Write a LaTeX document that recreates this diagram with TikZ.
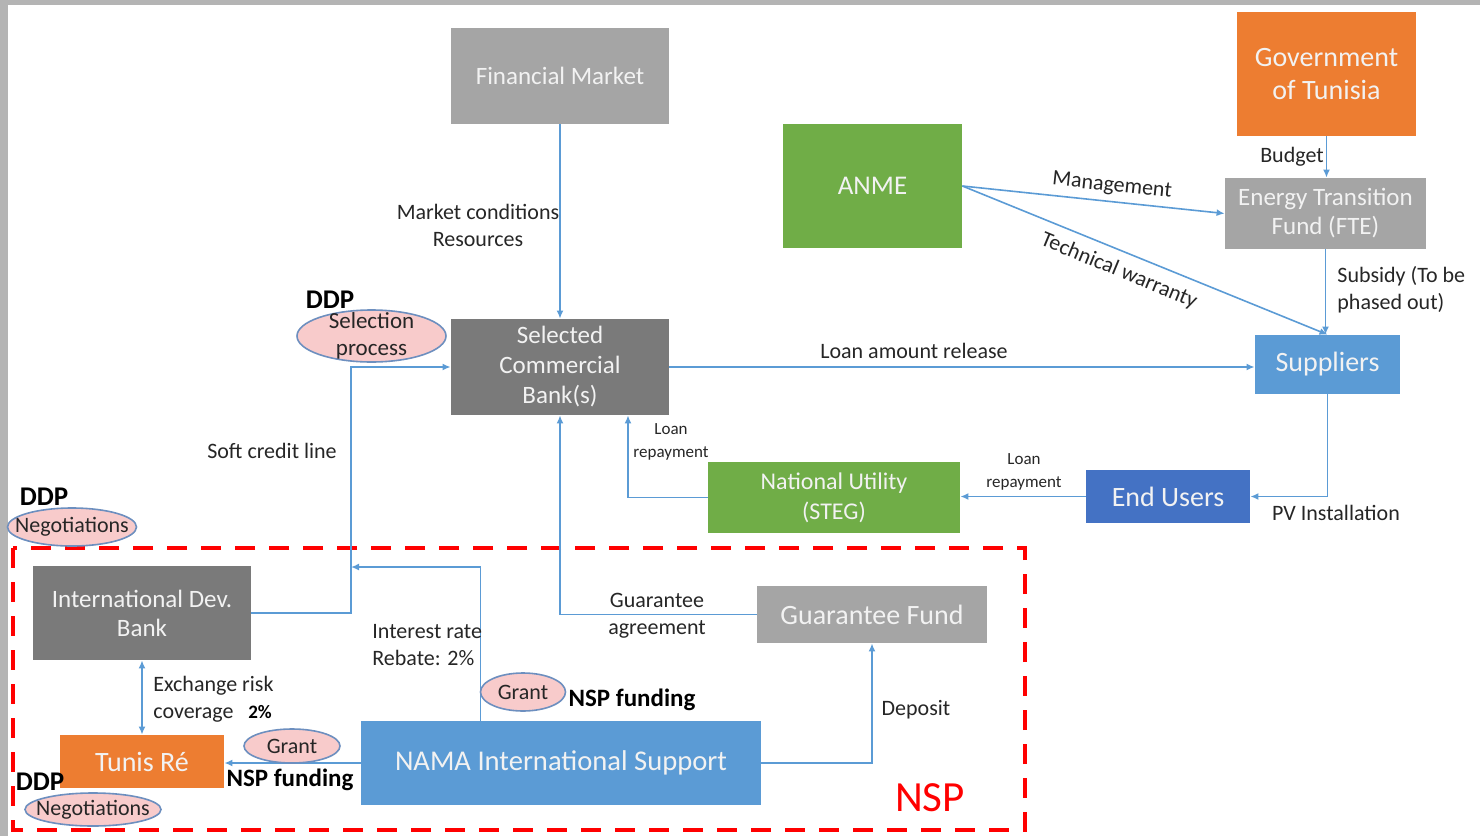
\documentclass[tikz,border=0pt]{standalone}
\usepackage{fontspec}
\setmainfont{Carlito}
\usetikzlibrary{arrows.meta,shapes.geometric,calc}
\definecolor{cblue}{HTML}{5B9BD5}
\definecolor{dblue}{HTML}{4472C4}
\definecolor{gmid}{HTML}{A5A5A5}
\definecolor{gdark}{HTML}{7A7A7A}
\definecolor{cgreen}{HTML}{70AD47}
\definecolor{corange}{HTML}{ED7D31}
\definecolor{pinkfill}{HTML}{F8CBCB}
\definecolor{ellborder}{HTML}{6D8FBF}
\definecolor{lbltext}{HTML}{262626}
\definecolor{frame}{HTML}{B4B4B4}
\begin{document}
\begin{tikzpicture}[x=0.5pt,y=-0.5pt,
  box/.style={rectangle, inner sep=0pt, align=center, text=white!95!black},
  conn/.style={draw=cblue, line width=0.8pt, -{Latex[length=4pt,width=3.5pt]}},
  lbl/.style={text=lbltext, align=center, inner sep=0pt, font=\fontsize{11}{13.5}\selectfont},
  small/.style={text=lbltext, align=center, inner sep=0pt, font=\fontsize{8.5}{11.5}\selectfont},
  pill/.style={ellipse, draw=ellborder, fill=pinkfill, line width=0.8pt, inner sep=0pt, align=center, text=lbltext},
  ddp/.style={font=\bfseries\fontsize{13.5}{15}\selectfont, inner sep=0pt},
  nspf/.style={font=\bfseries\fontsize{12.5}{14}\selectfont, inner sep=0pt}
]
\useasboundingbox (0,0) rectangle (1480,836);
% screenshot frame
\fill[frame] (0,0) rectangle (1480,5);
\fill[frame] (0,0) rectangle (8,836);

% boxes
\node[box, fill=gmid, minimum width=109pt, minimum height=48pt, font=\fontsize{12.5}{15}\selectfont] (fm) at (560,76) {Financial Market};
\node[box, fill=corange, minimum width=89.5pt, minimum height=62pt, font=\fontsize{14}{16.5}\selectfont] (gov) at (1326.5,74) {Government\\of Tunisia};
\node[box, fill=cgreen, minimum width=89.5pt, minimum height=62pt, font=\fontsize{13.5}{16}\selectfont] (anme) at (872.5,186) {ANME};
\node[box, fill=gmid, minimum width=100.5pt, minimum height=35.5pt, font=\fontsize{12.5}{14.5}\selectfont] (fte) at (1325.5,213.5) {Energy Transition\\Fund (FTE)};
\node[box, fill=gdark, minimum width=109pt, minimum height=48pt, font=\fontsize{12.5}{15}\selectfont] (scb) at (560,367) {Selected\\Commercial\\Bank(s)};
\node[box, fill=cblue, minimum width=72.5pt, minimum height=29.5pt, font=\fontsize{14}{16}\selectfont] (sup) at (1327.5,364.5) {Suppliers};
\node[box, fill=cgreen, minimum width=126pt, minimum height=35.5pt, font=\fontsize{12}{15}\selectfont] (steg) at (834,497.5) {National Utility\\(STEG)};
\node[box, fill=dblue, minimum width=82pt, minimum height=26.5pt, font=\fontsize{14}{16}\selectfont] (eu) at (1168,496.5) {End Users};
\node[box, fill=gdark, minimum width=109pt, minimum height=47pt, font=\fontsize{12.5}{14.5}\selectfont] (idb) at (142,613) {International Dev.\\Bank};
\node[box, fill=gmid, minimum width=115pt, minimum height=28.5pt, font=\fontsize{14}{16}\selectfont] (gf) at (872,614.5) {Guarantee Fund};
\node[box, fill=corange, minimum width=82pt, minimum height=26.5pt, font=\fontsize{14}{16}\selectfont] (tr) at (142,761.5) {Tunis Ré};
\node[box, fill=cblue, minimum width=200pt, minimum height=42pt, font=\fontsize{14.3}{16}\selectfont] (nama) at (561,763) {NAMA International Support};

% NSP dashed frame
\draw[red, line width=2pt, dash pattern=on 10pt off 7pt] (13,548) rectangle (1025,830);
\node[text=red, font=\fontsize{21.5}{24}\selectfont, inner sep=0pt] (nsp) at (930,798) {NSP};

% connectors
\draw[conn] (fm) -- (scb);
\coordinate (jsoft) at (351,567);
\draw[conn] (idb.east) -| (jsoft) |- (scb.west);
\draw[conn] ($(nama.north west)+(120,0)$) |- (jsoft);
\draw[conn] (gf.west) -| (scb.south);
\draw[conn] (nama.east) -| (gf.south);
\draw[conn] (nama.west) -- (nama.west -| tr.east);
\draw[conn, {Latex[length=4pt,width=3.5pt]}-{Latex[length=4pt,width=3.5pt]}] (idb.south) -- (tr.north);
\draw[conn] (scb.east) -- (scb.east -| sup.west);
\draw[conn] (steg.west) -| ($(scb.south)+(68,0)$);
\draw[conn] (eu.west) -- (eu.west -| steg.east);
\draw[conn] (sup.south) |- (eu.east);
\draw[conn] (gov.south) -- (gov.south |- fte.north);
\draw[conn] (fte.south) -- (fte.south |- sup.north);
\draw[conn] (anme.east) -- (fte.west);
\draw[conn] (anme.east) -- (sup.north);

% connector labels
\node[lbl] (l1) at (478,225) {Market conditions\\Resources};
\node[lbl] (l2) at (272,451) {Soft credit line};
\node[lbl, anchor=west, align=left] (l3) at (372,645) {Interest rate\\Rebate: 2\%};
\node[lbl] (l4) at (657,616) {Guarantee\\agreement};
\node[lbl] (l5) at (916,710) {Deposit};
\node[lbl, anchor=west, align=left] (l6) at (153,699) {Exchange risk\\coverage};
\node[font=\bfseries\fontsize{9.5}{11}\selectfont, inner sep=0pt] (l6b) at (260,712) {2\%};
\node[lbl] (l7) at (914,351) {Loan amount release};
\node[small] (l8) at (671,442) {Loan\\repayment};
\node[small] (l9) at (1024,472) {Loan\\repayment};
\node[lbl] (l10) at (1336,513) {PV Installation};
\node[lbl] (l11) at (1292,157) {Budget};
\node[lbl, anchor=west, align=left] (l12) at (1337,290) {Subsidy (To be\\phased out)};
\node[lbl, rotate=-5.9] (l13) at (1112,186) {Management};
\node[lbl, rotate=-22.5] (l14) at (1119,271) {Technical warranty};

% DDP ellipses
\node[pill, minimum width=74.5pt, minimum height=26pt, inner ysep=-3.5pt, font=\fontsize{11.5}{13.5}\selectfont] (sel) at (371.5,336) {Selection\\process};
\node[ddp] (d1) at (330,300) {DDP};
\node[pill, minimum width=64.5pt, minimum height=19pt, inner xsep=-6pt, font=\fontsize{11}{13}\selectfont] (neg1) at (72,527) {Negotiations};
\node[ddp] (d2) at (44,497) {DDP};
\node[pill, minimum width=68pt, minimum height=16.5pt, inner xsep=-5pt, inner ysep=-1pt, font=\fontsize{11}{13}\selectfont] (neg2) at (93,809.5) {Negotiations};
\node[ddp] (d3) at (40,782) {DDP};
\node[pill, minimum width=42.5pt, minimum height=19pt, font=\fontsize{11}{13}\selectfont] (g1) at (523,692) {Grant};
\node[nspf] (n1) at (632,700) {NSP funding};
\node[pill, minimum width=48pt, minimum height=17pt, font=\fontsize{11}{13}\selectfont] (g2) at (292,746) {Grant};
\node[nspf] (n2) at (290,780) {NSP funding};
\end{tikzpicture}
\end{document}
